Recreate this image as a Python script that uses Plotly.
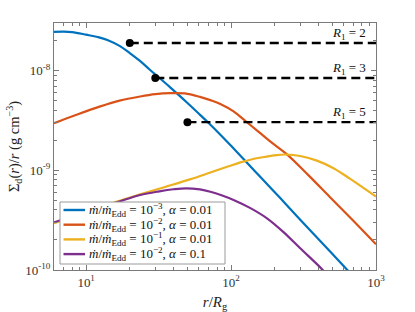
import numpy as np
import plotly.graph_objects as go

# ---------------- data ----------------
r_blue = [6, 7, 8, 10, 12, 14, 17, 20, 23.5, 27.5, 32, 38, 44, 50, 60, 70, 85, 100, 120,
          160, 220, 300, 400, 600, 800]
s_blue = [2.44e-8, 2.46e-8, 2.43e-8, 2.29e-8, 2.17e-8, 2.03e-8, 1.77e-8, 1.5e-8, 1.25e-8,
          1.02e-8, 8.44e-9, 6.79e-9, 5.61e-9, 4.73e-9, 3.69e-9, 2.98e-9, 2.25e-9, 1.76e-9,
          1.33e-9, 8.5e-10, 5.2e-10, 3.2e-10, 2.05e-10, 1.09e-10, 7.0e-11]

r_red = [6, 8.4, 12.5, 17, 23.6, 30, 38, 48, 61, 72, 85, 104, 128, 155, 186, 245, 340,
         480, 700, 1000]
s_red = [2.96e-9, 3.56e-9, 4.37e-9, 5.0e-9, 5.5e-9, 5.8e-9, 5.94e-9, 5.9e-9,
         5.45e-9, 5.05e-9, 4.6e-9, 3.9e-9, 3.05e-9, 2.43e-9, 1.95e-9, 1.43e-9, 9.0e-10,
         5.4e-10, 3.1e-10, 1.81e-10]

r_yel = [6, 10, 16.3, 23.6, 35, 52, 72, 95, 116, 140, 170, 205, 240, 300, 391, 509, 664, 1000]
s_yel = [2.95e-10, 3.8e-10, 4.85e-10, 5.73e-10, 6.8e-10, 8.1e-10, 9.5e-10, 1.09e-9, 1.2e-9,
         1.29e-9, 1.36e-9, 1.42e-9, 1.44e-9, 1.39e-9, 1.25e-9, 1.05e-9, 8.2e-10, 5.45e-10]

r_pur = [6, 10, 16.3, 23.6, 32, 40, 49, 61, 72, 86, 104, 135, 177, 230, 300, 424, 524]
s_pur = [3.01e-10, 3.81e-10, 4.78e-10, 5.65e-10, 6.15e-10, 6.45e-10, 6.6e-10, 6.43e-10,
         6.1e-10, 5.62e-10, 5.04e-10, 4.2e-10, 3.3e-10, 2.4e-10, 1.65e-10, 1.02e-10, 7.2e-11]

series_names = [
    "<i>ṁ</i>/<i>ṁ</i><sub>Edd</sub> = 10<sup>−3</sup>, <i>α</i> = 0.01",
    "<i>ṁ</i>/<i>ṁ</i><sub>Edd</sub> = 10<sup>−2</sup>, <i>α</i> = 0.01",
    "<i>ṁ</i>/<i>ṁ</i><sub>Edd</sub> = 10<sup>−1</sup>, <i>α</i> = 0.01",
    "<i>ṁ</i>/<i>ṁ</i><sub>Edd</sub> = 10<sup>−2</sup>, <i>α</i> = 0.1",
]
colors = ["#0072BD", "#D95319", "#EDB120", "#7E2F8E"]

R1_values = [2, 3, 5]
R1_r_start = [20, 30, 50]
R1_level = [1.89e-8, 8.41e-9, 3.04e-9]
r_end = 1000

x_tickvals = [10, 100, 1000]
x_ticktext = ["10<sup>1</sup>", "10<sup>2</sup>", "10<sup>3</sup>"]
y_tickvals = [1e-10, 1e-9, 1e-8]
y_ticktext = ["10<sup>-10</sup>", "10<sup>-9</sup>", "10<sup>-8</sup>"]

x_min, x_max = 6, 1000
y_min, y_max = 1e-10, 3e-8

# ---------------- figure ----------------
FONT = "Liberation Serif, DejaVu Serif, Times New Roman, serif"
W, H = 415, 312
ML, MR, MT, MB = 54, 39, 23, 42
PW, PH = W - ML - MR, H - MT - MB

fig = go.Figure()
curves = [(r_blue, s_blue), (r_red, s_red), (r_yel, s_yel), (r_pur, s_pur)]
for (rr, ss), name, col in zip(curves, series_names, colors):
    fig.add_trace(go.Scatter(x=rr, y=ss, mode="lines", name=name,
                             line=dict(color=col, width=2.2, shape="spline", smoothing=1.0),
                             showlegend=False))

for R1, rs, lv in zip(R1_values, R1_r_start, R1_level):
    fig.add_trace(go.Scatter(x=[rs, r_end], y=[lv, lv], mode="lines",
                             line=dict(color="black", width=2.4, dash="9px,5px"),
                             showlegend=False))
    fig.add_trace(go.Scatter(x=[rs], y=[lv], mode="markers",
                             marker=dict(color="black", size=8), showlegend=False))
    fig.add_annotation(x=np.log10(r_end), y=np.log10(lv), xref="x", yref="y",
                       text=f"<i>R</i><sub>1</sub> = {R1}", showarrow=False,
                       xanchor="right", yanchor="middle", xshift=-8, yshift=10,
                       font=dict(family=FONT, size=13, color="#111"))

# manual legend (compact rows, as in the reference)
def px2paper_x(px):
    return (px - ML) / PW

def px2paper_y(py):
    return (H - MB - py) / PH

leg_left, leg_right, leg_top, leg_bottom = 60, 225, 202, 264
row_y0, row_dy = 210, 14.7
fig.add_shape(type="rect", xref="paper", yref="paper",
              x0=px2paper_x(leg_left), x1=px2paper_x(leg_right),
              y0=px2paper_y(leg_bottom), y1=px2paper_y(leg_top),
              fillcolor="white", line=dict(color="#9a9a9a", width=1), layer="above")
for i, (name, col) in enumerate(zip(series_names, colors)):
    yy = px2paper_y(row_y0 + i * row_dy)
    fig.add_shape(type="line", xref="paper", yref="paper",
                  x0=px2paper_x(63.5), x1=px2paper_x(85), y0=yy, y1=yy,
                  line=dict(color=col, width=2.4), layer="above")
    fig.add_annotation(x=px2paper_x(87), y=yy, xref="paper", yref="paper",
                       text=name, showarrow=False, xanchor="left", yanchor="middle",
                       font=dict(family=FONT, size=13, color="#111"))

axis_common = dict(type="log", showline=True, linecolor="#7a7a7a", linewidth=1,
                   mirror="allticks", ticks="inside", ticklen=5, tickcolor="#7a7a7a",
                   showgrid=False, zeroline=False,
                   tickfont=dict(family=FONT, size=13, color="#333"))

minor_x = [m * 10 ** k for k in range(0, 3) for m in range(2, 10)]
minor_y = [m * 10.0 ** k for k in range(-10, -7) for m in range(2, 10)]

fig.update_xaxes(**axis_common, range=[np.log10(x_min), np.log10(x_max)],
                 tickmode="array", tickvals=x_tickvals, ticktext=x_ticktext,
                 minor=dict(ticks="inside", ticklen=3, tickcolor="#7a7a7a",
                            tickmode="array", tickvals=minor_x, showgrid=False),
                 title=dict(text="<i>r</i>/<i>R</i><sub>g</sub>",
                            font=dict(family=FONT, size=15, color="#222"), standoff=8))
fig.update_yaxes(**axis_common, range=[np.log10(y_min), np.log10(y_max)],
                 tickmode="array", tickvals=y_tickvals, ticktext=y_ticktext,
                 minor=dict(ticks="inside", ticklen=3, tickcolor="#7a7a7a",
                            tickmode="array", tickvals=minor_y, showgrid=False),
                 title=dict(text="Σ<sub>d</sub>(<i>r</i>)/<i>r</i> (g cm<sup>−3</sup>)",
                            font=dict(family=FONT, size=14.5, color="#222"), standoff=2))

fig.update_layout(width=W, height=H, margin=dict(l=ML, r=MR, t=MT, b=MB, autoexpand=False),
                  paper_bgcolor="white", plot_bgcolor="white", showlegend=False)

# remove the browser's default 8px page margin so the figure sits at (0, 0)
fig.write_html("out.html", config={"displayModeBar": False},
               post_script="document.body.style.margin='0';document.body.style.overflow='hidden';")
